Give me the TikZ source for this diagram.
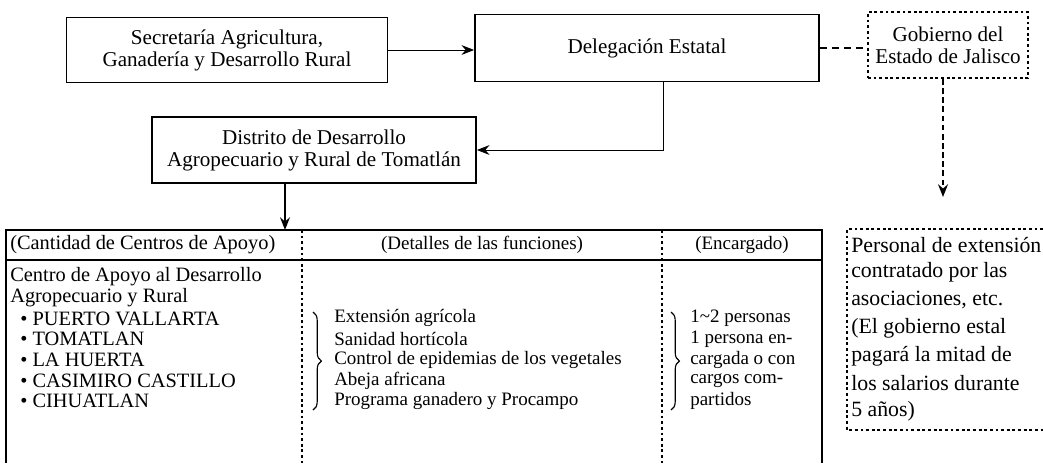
\documentclass[tikz,border=0pt]{standalone}
\usepackage{fontspec}
\setmainfont{Liberation Serif}
\usetikzlibrary{arrows.meta,decorations.pathreplacing}

\tikzset{
  caja/.style={draw, line width=1.2pt, align=center, font=\fontsize{15pt}{15.6pt}\selectfont},
  cajapunteada/.style={caja, line width=1.5pt, dash pattern=on 2pt off 2pt},
  flecha/.style={-{Stealth[length=9pt,width=7pt,inset=3pt]}, line width=0.7pt},
  rayado/.style={dash pattern=on 5pt off 3.5pt, line width=1pt},
  divisor/.style={line width=1.4pt, dash pattern=on 2pt off 2pt},
  llave/.style={decorate, decoration={brace, amplitude=6pt}, line width=0.8pt},
  fila/.style={anchor=west, inner sep=0pt},
  filagrande/.style={fila, font=\fontsize{14.5pt}{15pt}\selectfont},
  filapersonal/.style={fila, font=\fontsize{15.5pt}{18pt}\selectfont},
}

\begin{document}
\begin{tikzpicture}[x=0.025cm, y=-0.025cm, font=\fontsize{13.5pt}{15pt}\selectfont]
        \useasboundingbox (0,0) rectangle (1043,463);

        % cajas de arriba
        \node[caja, minimum width=8.03cm, minimum height=1.63cm] (sagarpa) at (227,50) {Secretaría Agricultura,\\Ganadería y Desarrollo Rural};
        \node[caja, minimum width=8.6cm, minimum height=1.68cm] (delegacion) at (647,48) {Delegación Estatal};
        \node[cajapunteada, minimum width=4cm, minimum height=1.65cm, inner sep=1pt] (gobierno) at (948,45) {Gobierno del\\Estado de Jalisco};
        \node[caja, minimum width=8.1cm, minimum height=1.65cm] (distrito) at (314,150) {Distrito de Desarrollo\\Agropecuario y Rural de Tomatlán};

        \draw[flecha] (sagarpa.east) -- (sagarpa.east -| delegacion.west);
        \draw[rayado] (delegacion.east) -- (delegacion.east -| gobierno.west);
        \draw[flecha] ([xshift=0.42cm]delegacion.south) |- (distrito.east);

        \coordinate (llegada) at (943,197);
        \draw[flecha, rayado, line width=1.6pt, dash pattern=on 4pt off 2.5pt] (gobierno.south -| llegada) -- (llegada);

        % tabla
        \coordinate (tabla) at (285,230);
        \draw[flecha, line width=1.2pt] (distrito.south -| tabla) -- (tabla);
        \draw[line width=1.2pt] (6,463) -- (6,230) -- (822,230) -- (822,463);
        \draw[line width=0.8pt] (6,260) -- (822,260);
        \draw[divisor] (302,230) -- (302,463);
        \draw[divisor] (662,230) -- (662,463);

        \node[filagrande] (cantidad) at (10,245) {(Cantidad de Centros de Apoyo)};
        \node (detalles) at (482,245) {(Detalles de las funciones)};
        \node (encargado) at (742,245) {(Encargado)};

        \node[filagrande] (centro) at (10,277) {Centro de Apoyo al Desarrollo};
        \node[filagrande] (agro) at (10,297.7) {Agropecuario y Rural};
        \foreach \lugar [count=\i] in {PUERTO VALLARTA, TOMATLAN, LA HUERTA, CASIMIRO CASTILLO, CIHUATLAN}
            \node[filagrande] (lugar\i) at (20,297.7+20.7*\i) {\textbullet\ \lugar};

        \foreach \funcion [count=\i] in {Extensión agrícola, Sanidad hortícola, Control de epidemias de los vegetales, Abeja africana, Programa ganadero y Procampo}
            \node[fila] (funcion\i) at (334,297.7+20.7*\i) {\funcion};
        \draw[llave] (313,312) -- (313,410);

        \foreach \texto [count=\i] in {1\textasciitilde 2 personas, 1 persona en-, cargada o con, cargos com-, partidos}
            \node[fila] (cargo\i) at (690,297.7+20.7*\i) {\texto};
        \draw[llave] (671,312) -- (671,410);

        % personal de extension
        \draw[divisor] (1043,229) -| (847,430) -- (1043,430);
        \foreach \linea [count=\i] in {Personal de extensión, contratado por las, {asociaciones, etc.}, {(El gobierno estal}, pagará la mitad de, los salarios durante, {5 años)}}
            \node[filapersonal] (personal\i) at (851,217.3+27.7*\i) {\linea};

    \end{tikzpicture}
\end{document}
